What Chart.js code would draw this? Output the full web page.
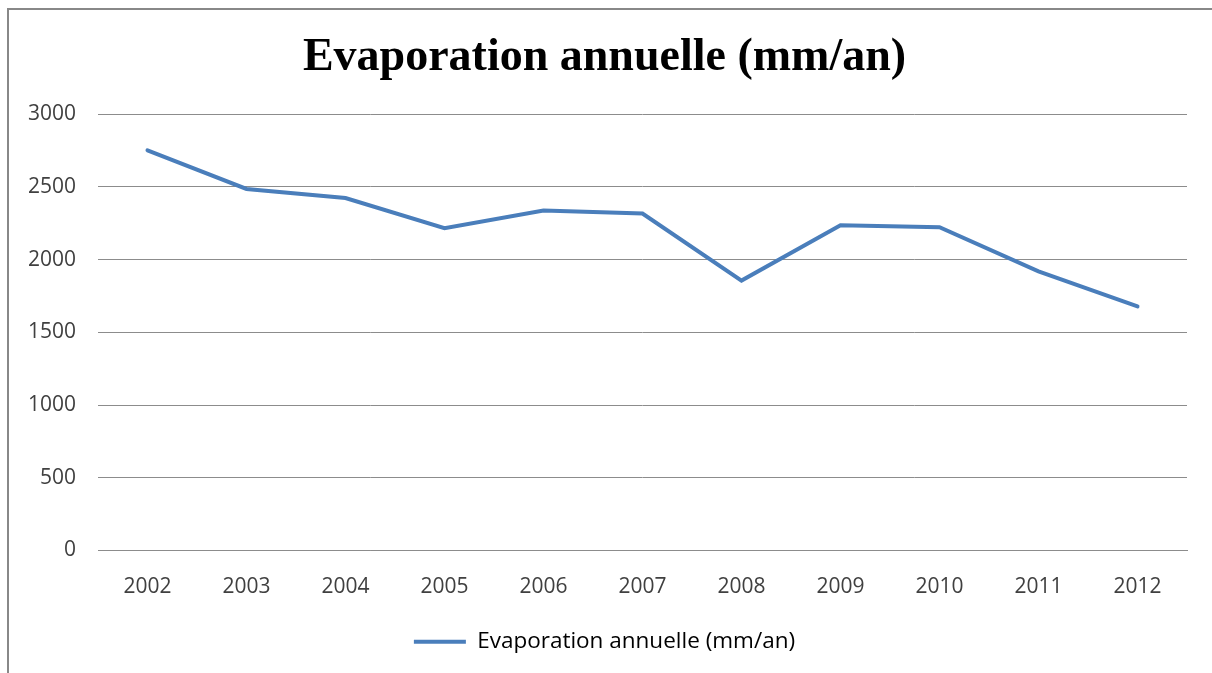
<!DOCTYPE html>
<html>
<head>
<meta charset="utf-8">
<script src="https://cdn.jsdelivr.net/npm/chart.js@4"></script>
<style>
  html, body { margin: 0; padding: 0; background: #fff; overflow: hidden; }
  #wrap { position: relative; width: 1212px; height: 673px; }
  #frame { position: absolute; left: 7px; top: 8px; width: 1220px; height: 700px;
           border-left: 2px solid #888; border-top: 2px solid #888; }
  canvas { position: absolute; left: 0; top: 0; }
</style>
</head>
<body>
<div id="wrap">
  <div id="frame"></div>
  <canvas id="chart" width="1212" height="673"></canvas>
</div>
<script>
// Data
const years = ["2002", "2003", "2004", "2005", "2006", "2007", "2008", "2009", "2010", "2011", "2012"];
const evaporation = [2752, 2486, 2424, 2216, 2338, 2317, 1856, 2236, 2223, 1920, 1678];
const yTicks = [0, 500, 1000, 1500, 2000, 2500, 3000];

const seriesLabel = "Evaporation annuelle (mm/an)";
const lineColor = "#4a7ebb";
const textColor = "#404040";
const gridColor = "#8c8c8c";
const tickFont = { family: "'Open Sans', 'Noto Sans', sans-serif", size: 21 };

const el = (id) => document.getElementById(id);

new Chart(el("chart").getContext("2d"), {
  type: "line",
  data: {
    labels: years,
    datasets: [{
      label: seriesLabel,
      data: evaporation,
      borderColor: lineColor,
      backgroundColor: lineColor,
      borderWidth: 4,
      borderCapStyle: "round",
      borderJoinStyle: "miter",
      pointRadius: 0,
      tension: 0,
    }],
  },
  options: {
    responsive: false,
    animation: false,
    layout: { padding: { left: 22, right: 25, top: 10, bottom: 10 } },
    plugins: {
      title: {
        display: true,
        text: seriesLabel,
        color: "#000",
        font: { family: "'Liberation Serif', 'Times New Roman', serif", size: 46, weight: "bold", lineHeight: 1.2 },
        padding: { top: 21, bottom: 28 },
      },
      legend: {
        position: "bottom",
        labels: {
          color: textColor,
          font: { family: "'Open Sans', 'Noto Sans', sans-serif", size: 22.5 },
          boxWidth: 52,
          boxHeight: 4,
          padding: 10,
          generateLabels: (chart) => [{
            text: seriesLabel,
            fillStyle: lineColor,
            strokeStyle: lineColor,
            lineWidth: 0,
            datasetIndex: 0,
          }],
        },
      },
      tooltip: { enabled: false },
    },
    scales: {
      x: {
        offset: true,
        grid: { display: false, drawTicks: false },
        border: { display: true, color: gridColor, width: 1 },
        ticks: { color: textColor, font: tickFont, padding: 24, maxRotation: 0 },
        afterFit: (scale) => { scale.height = 70; },
      },
      y: {
        min: 0,
        max: 3000,
        afterBuildTicks: (scale) => { scale.ticks = yTicks.map((v) => ({ value: v })); },
        grid: { color: gridColor, lineWidth: 1, drawTicks: false },
        border: { display: false },
        ticks: { color: textColor, font: tickFont, padding: 22, callback: (v) => String(v) },
        afterFit: (scale) => { scale.width = 76; },
      },
    },
  },
});
</script>
</body>
</html>
